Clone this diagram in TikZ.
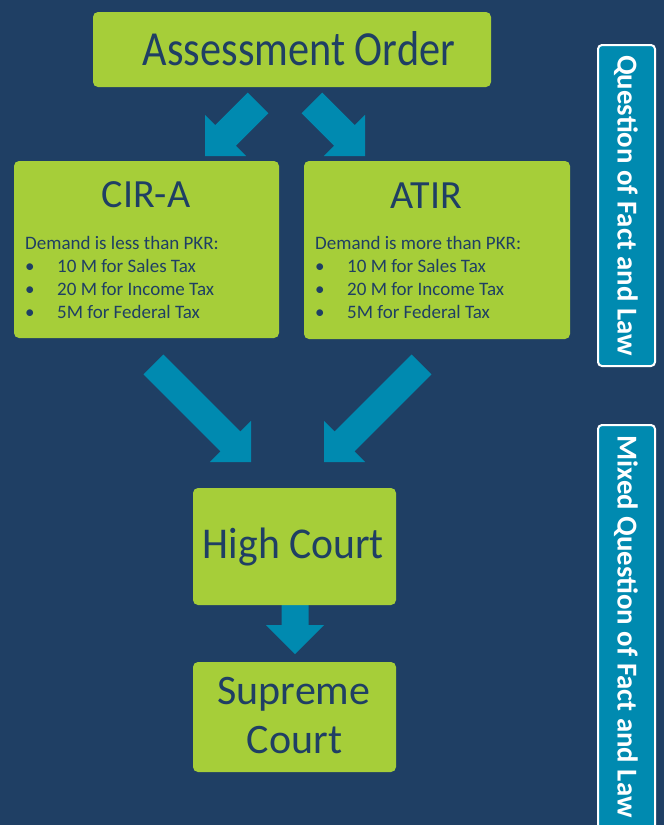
\documentclass[tikz,border=0pt]{standalone}
\usepackage{fontspec}
\setmainfont{Carlito}
\usepackage{graphicx}
\definecolor{navy}{HTML}{1F3F64}
\definecolor{lime}{HTML}{A6CE39}
\definecolor{tealc}{HTML}{008AB0}
\newcommand\blkarrow[4]{%
  \fill[arrowc, shift={#1}, rotate=#2] (0,0) -- (-29,29) -- (-29,#4) -- (-#3,#4) -- (-#3,-#4) -- (-29,-#4) -- (-29,-29) -- cycle;}
\begin{document}
\begin{tikzpicture}[x=1pt,y=-1pt,
  gbox/.style={rectangle, fill=lime, rounded corners=5pt, inner sep=0pt},
  tbox/.style={rectangle, fill=tealc, draw=white, line width=2pt, rounded corners=4pt, inner sep=0pt},
  txt/.style={inner sep=0pt, text=navy, anchor=base},
  body/.style={inner sep=0pt, text=navy, anchor=base west, font=\fontsize{19}{23}\selectfont},
  vtxt/.style={inner sep=0pt, text=white, anchor=base, rotate=-90, font=\fontsize{28.8}{28.8}\selectfont\bfseries},
  arrowc/.style={fill=tealc}]
\useasboundingbox (0,0) rectangle (664,825);
\clip (0,0) rectangle (664,825);
\fill[navy] (0,0) rectangle (664,825);

% block arrows
\coordinate (a1) at (205,156);
\coordinate (a2) at (365,156);
\coordinate (a3) at (251,462);
\coordinate (a4) at (324,462);
\coordinate (a5) at (295,654);
\blkarrow{(a1)}{225}{75}{14.5}
\blkarrow{(a2)}{315}{75}{14.5}
\blkarrow{(a3)}{315}{138}{14}
\blkarrow{(a4)}{225}{138}{14}
\blkarrow{(a5)}{270}{49}{13.5}

% green boxes
\node[gbox, minimum width=398pt, minimum height=75pt] (ao) at (292,49.5) {};
\node[gbox, minimum width=265pt, minimum height=177pt] (cira) at (146.5,249.5) {};
\node[gbox, minimum width=266pt, minimum height=178pt] (atir) at (437,250) {};
\node[gbox, minimum width=203pt, minimum height=117pt] (hc) at (294.5,546.5) {};
\node[gbox, minimum width=203pt, minimum height=110pt] (sc) at (294.5,717) {};

% titles
\node[txt, font=\fontsize{49}{49}\selectfont] (aot) at (299,65) {\resizebox{312pt}{\height}{Assessment Order}};
\node[txt, font=\fontsize{40}{40}\selectfont] (cirat) at (146,207.5) {CIR-A};
\node[txt, font=\fontsize{40}{40}\selectfont] (atirt) at (426.5,208.5) {ATIR};
\node[txt, font=\fontsize{44}{44}\selectfont] (hct) at (293.5,558) {\resizebox{181pt}{\height}{High Court}};
\node[txt, font=\fontsize{42}{42}\selectfont] (sct1) at (294,704) {Supreme};
\node[txt, font=\fontsize{42}{42}\selectfont] (sct2) at (294.5,753) {Court};

% CIR-A body
\node[body] (c1) at (25,249) {Demand is less than PKR:};
\node[body] (c2b) at (25,272) {\textbullet};
\node[body] (c2) at (57,272) {10 M for Sales Tax};
\node[body] (c3b) at (25,295) {\textbullet};
\node[body] (c3) at (57,295) {20 M for Income Tax};
\node[body] (c4b) at (25,318) {\textbullet};
\node[body] (c4) at (57,318) {5M for Federal Tax};

% ATIR body
\node[body] (d1) at (315,249) {Demand is more than PKR:};
\node[body] (d2b) at (315,272) {\textbullet};
\node[body] (d2) at (347,272) {10 M for Sales Tax};
\node[body] (d3b) at (315,295) {\textbullet};
\node[body] (d3) at (347,295) {20 M for Income Tax};
\node[body] (d4b) at (315,318) {\textbullet};
\node[body] (d4) at (347,318) {5M for Federal Tax};

% side labels
\node[tbox, minimum width=57pt, minimum height=321pt] (qbox) at (626.5,205.5) {};
\node[vtxt] (qtxt) at (617.5,205.5) {Question of Fact and Law};
\node[tbox, minimum width=57pt, minimum height=435pt] (mbox) at (626.5,642.5) {};
\node[vtxt] (mtxt) at (617.5,626.5) {Mixed Question of Fact and Law};
\end{tikzpicture}
\end{document}
